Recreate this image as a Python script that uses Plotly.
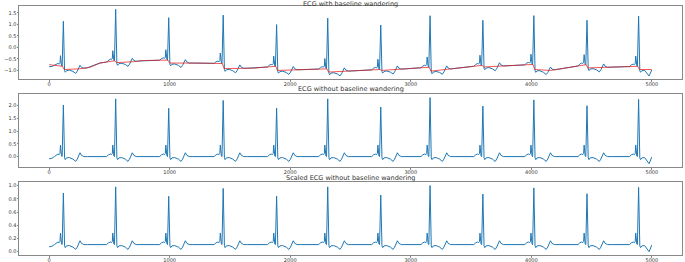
import numpy as np
import plotly.graph_objects as go

# ---- data ----
beat_pos = [118, 552, 992, 1444, 1887, 2311, 2751, 3160, 3598, 4021, 4462, 4890]
r_amp = [2.03, 2.27, 1.90, 2.21, 1.90, 2.27, 1.95, 2.32, 1.99, 2.23, 2.00, 2.25]

# one beat (offset from R peak in samples, value); the R entry is replaced by r_amp
tmpl_off = [-130, -75, -60, -45, -34, -28, -24, -20, -15, -10, 0, 10, 16, 27, 50, 80, 102, 115, 128, 138, 150, 170, 200]
tmpl_val = [0.0, 0.0, 0.07, 0.10, 0.08, 0.12, 0.45, 0.05, 0.02, 0.0, 1.0, -0.05, -0.12, -0.05, -0.04, -0.10, -0.19, -0.10, 0.08, 0.15, 0.05, 0.0, 0.0]
R_INDEX = 10

start_x = [0, 25]
start_y = [-0.09, -0.06]
end_x = [4977, 4999]
end_y = [-0.28, -0.02]

base_x = [0, 110, 125, 250, 336, 420, 545, 560, 700, 780, 985, 1000, 1250, 1437, 1451, 1700,
          1880, 1894, 2304, 2318, 2744, 2758, 3153, 3167, 3591, 3605, 4014, 4028, 4160,
          4455, 4469, 4883, 4897, 4999]
base_y = [-0.75, -0.82, -0.96, -0.93, -0.87, -0.68, -0.58, -0.66, -0.62, -0.57, -0.55, -0.68, -0.68, -0.70, -0.92, -0.90,
          -0.82, -1.00, -0.93, -1.07, -0.96, -1.00, -0.86, -1.03, -0.78, -0.85, -0.74, -0.96, -1.00,
          -0.75, -0.89, -0.82, -0.96, -0.96]

x_ticks = [0, 1000, 2000, 3000, 4000, 5000]
titles = ["ECG with baseline wandering", "ECG without baseline wandering", "Scaled ECG without baseline wandering"]

# ---- build clean ECG vertices ----
xs = list(start_x)
ys = list(start_y)
for p, a in zip(beat_pos, r_amp):
    for k, (o, v) in enumerate(zip(tmpl_off, tmpl_val)):
        x = p + o
        if x <= xs[-1] or x >= end_x[0] - 10:
            continue
        xs.append(x)
        ys.append(a if k == R_INDEX else v)
xs += end_x
ys += end_y
xs = np.array(xs, dtype=float)
clean = np.array(ys, dtype=float)

wander = clean + np.interp(xs, base_x, base_y)
scaled = (clean - clean.min()) / (clean.max() - clean.min())

def rng(v):
    lo, hi = float(np.min(v)), float(np.max(v))
    s = hi - lo
    return [lo - 0.05 * s, hi + 0.05 * s]

BLUE = "#1f77b4"
fig = go.Figure()
fig.add_trace(go.Scatter(x=xs, y=wander, mode="lines", line=dict(color=BLUE, width=1), xaxis="x", yaxis="y"))
fig.add_trace(go.Scatter(x=base_x, y=base_y, mode="lines", line=dict(color="rgba(235,30,30,0.75)", width=1), xaxis="x", yaxis="y"))
fig.add_trace(go.Scatter(x=xs, y=clean, mode="lines", line=dict(color=BLUE, width=1), xaxis="x2", yaxis="y2"))
fig.add_trace(go.Scatter(x=xs, y=scaled, mode="lines", line=dict(color=BLUE, width=1), xaxis="x3", yaxis="y3"))

W, H = 685, 262
xdom = [19 / W, 682 / W]
ydoms = [[1 - 79.3 / H, 1 - 6 / H], [1 - 167 / H, 1 - 94.3 / H], [1 - 255 / H, 1 - 182.3 / H]]
yranges = [rng(np.concatenate([wander, base_y])), rng(clean), rng(scaled)]
ytick_sets = [[-1.0, -0.5, 0.0, 0.5, 1.0, 1.5], [0.0, 0.5, 1.0, 1.5, 2.0], [0.0, 0.2, 0.4, 0.6, 0.8, 1.0]]

axcommon = dict(showgrid=False, zeroline=False, showline=True, mirror=True, linecolor="#888", linewidth=1,
                automargin=False, ticks="outside", ticklen=1.5, tickcolor="#888",
                tickfont=dict(size=5, color="#333", family="DejaVu Sans"))
layout = dict(width=W, height=H, autosize=False, margin=dict(l=0, r=0, t=0, b=0, autoexpand=False), showlegend=False,
              paper_bgcolor="white", plot_bgcolor="white", annotations=[])
title_y = [3.5, 89.5, 178.3]
for i in range(3):
    sfx = "" if i == 0 else str(i + 1)
    layout["xaxis" + sfx] = dict(domain=xdom, range=[-250, 5250], tickvals=x_ticks, ticktext=[str(t) for t in x_ticks],
                                 anchor="y" + sfx, ticklabelstandoff=-2, **axcommon)
    layout["yaxis" + sfx] = dict(domain=ydoms[i], range=yranges[i], tickvals=ytick_sets[i], tickformat=".1f",
                                 anchor="x" + sfx, ticklabelstandoff=-1, **axcommon)
    layout["annotations"].append(dict(text=titles[i], x=(xdom[0] + xdom[1]) / 2, y=1 - title_y[i] / H,
                                      xref="paper", yref="paper", showarrow=False, xanchor="center", yanchor="middle",
                                      font=dict(size=6.5, color="#333", family="DejaVu Sans")))
fig.update_layout(**layout)
fig.write_html("out.html", config={"responsive": False, "displayModeBar": False},
               default_width="685px", default_height="262px",
               post_script="document.body.style.margin='0';document.body.style.overflow='hidden';")
